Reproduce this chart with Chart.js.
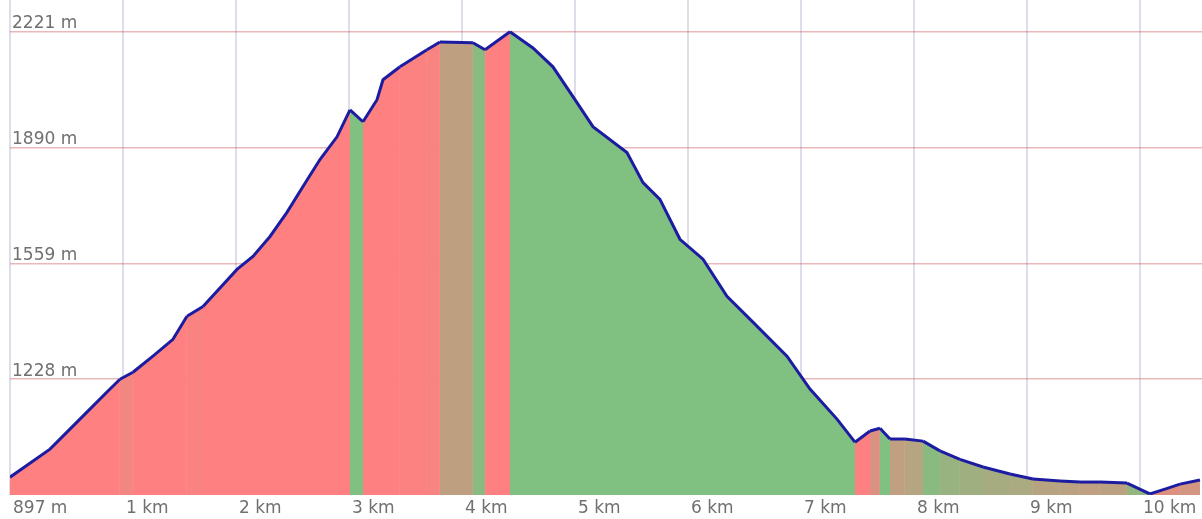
<!DOCTYPE html>
<html>
<head>
<meta charset="utf-8">
<script src="https://cdn.jsdelivr.net/npm/chart.js@4/dist/chart.umd.min.js"></script>
<style>
  html, body { margin: 0; padding: 0; background: #ffffff; }
  #wrap { width: 1202px; height: 519px; }
</style>
</head>
<body>
<div id="wrap"><canvas id="c" width="1202" height="519"></canvas></div>
<script>
// Distance along the route (km)
const distKm = [0.000, 0.354, 0.619, 0.885, 0.973, 1.088, 1.265, 1.442, 1.566, 1.708,
  2.009, 2.150, 2.301, 2.451, 2.593, 2.743, 2.894, 3.009, 3.124, 3.248,
  3.301, 3.451, 3.690, 3.805, 4.097, 4.204, 4.425, 4.628, 4.805, 5.000,
  5.159, 5.460, 5.602, 5.752, 5.929, 6.133, 6.345, 6.575, 6.876, 7.080,
  7.319, 7.478, 7.611, 7.699, 7.788, 7.920, 8.080, 8.230, 8.407, 8.611,
  8.850, 9.053, 9.292, 9.469, 9.646, 9.885, 10.088, 10.221, 10.354, 10.531];
// Elevation (m)
const elevM = [948, 1028, 1114, 1200, 1228, 1248, 1294, 1342, 1408, 1436,
  1542, 1579, 1636, 1705, 1779, 1856, 1921, 1998, 1964, 2027,
  2084, 2121, 2170, 2192, 2190, 2170, 2221, 2175, 2121, 2027,
  1950, 1876, 1790, 1742, 1628, 1571, 1465, 1391, 1294, 1200,
  1114, 1048, 1080, 1088, 1057, 1057, 1051, 1023, 999, 977,
  957, 943, 937, 934, 934, 931, 900, 914, 928, 940];
// Axis ticks
const xTickValues = [0, 1, 2, 3, 4, 5, 6, 7, 8, 9, 10];
const xTickLabels = ['897 m', '1 km', '2 km', '3 km', '4 km', '5 km', '6 km', '7 km', '8 km', '9 km', '10 km'];
const yTickValues = [1228, 1559, 1890, 2221];

const points = distKm.map((d, i) => ({ x: d, y: elevM[i] }));

// uphill -> red, flat -> tan, downhill -> green (opaque, as seen on white)
function slopeColor(p0, p1) {
  const grade = (p1.y - p0.y) / ((p1.x - p0.x) * 1000);
  const t = Math.max(-1, Math.min(1, grade / 0.22));
  let r, g;
  if (t >= 0) { r = 128 + 127 * t; g = 64 - 64 * t; }
  else { r = 128 + 128 * t; g = 64 - 64 * t; }
  r = 127.5 + r / 2; g = 127.5 + g / 2;
  return 'rgb(' + Math.round(r) + ',' + Math.round(g) + ',128)';
}

const tickFont = { family: 'DejaVu Sans', size: 17 };

new Chart(document.getElementById('c'), {
  type: 'line',
  data: {
    datasets: [{
      data: points,
      borderColor: '#1c1ca2',
      borderWidth: 3,
      pointRadius: 0,
      tension: 0,
      fill: 'start',
      backgroundColor: 'rgb(255,128,128)',
      segment: {
        backgroundColor: ctx => slopeColor(ctx.p0.parsed, ctx.p1.parsed)
      }
    }]
  },
  options: {
    responsive: false,
    animation: false,
    events: [],
    layout: { padding: { left: 10, right: 0, top: 0, bottom: 0 } },
    plugins: { legend: { display: false }, tooltip: { enabled: false } },
    scales: {
      x: {
        type: 'linear',
        min: 0,
        max: 10.549,
        afterBuildTicks: s => { s.ticks = xTickValues.map(v => ({ value: v })); },
        afterFit: s => { s.paddingLeft = 0; s.paddingRight = 0; s.height = 24; },
        border: { display: false },
        grid: { color: 'rgba(200,200,222,0.6)', lineWidth: 2, drawTicks: false },
        ticks: {
          align: 'start',
          labelOffset: 3,
          padding: 3,
          autoSkip: false,
          maxRotation: 0,
          color: '#707070',
          font: tickFont,
          callback: (v, i) => xTickLabels[i]
        }
      },
      y: {
        z: 1,
        min: 897,
        max: 2312,
        afterBuildTicks: s => { s.ticks = yTickValues.map(v => ({ value: v })); },
        afterFit: s => { s.paddingTop = 0; s.paddingBottom = 0; s.width = 0; },
        border: { display: false },
        grid: { color: 'rgba(200,80,80,0.4)', lineWidth: 1.5, drawTicks: false },
        ticks: {
          mirror: true,
          padding: 2,
          labelOffset: -8,
          color: '#707070',
          font: tickFont,
          callback: v => v + ' m'
        }
      }
    }
  }
});
</script>
</body>
</html>
